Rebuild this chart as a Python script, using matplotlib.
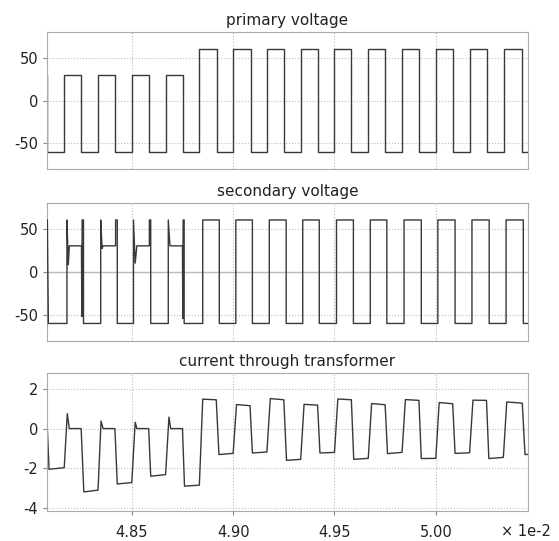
import numpy as np
import matplotlib.pyplot as plt

plt.rcParams["axes.unicode_minus"] = False

# switching frequency, times below are given in switching cycles
F_SW = 6000.0

# primary voltage: switching instants and level after each instant
prim_sw = [288.5, 288.5, 289.0, 289.51, 290.0, 290.51, 291.0, 291.51, 292.0, 292.51,
           293.0, 293.53, 294.0, 294.53, 295.0, 295.52, 296.0, 296.51, 297.0, 297.5,
           298.0, 298.5, 299.0, 299.51, 300.0, 300.52, 301.0, 301.53, 302.02, 302.55, 302.73]
prim_lv = [30, -60, 30, -60, 30, -60, 30, -60, 30, -60,
           60, -60, 60, -60, 60, -60, 60, -60, 60, -60,
           60, -60, 60, -60, 60, -60, 60, -60, 60, -60, -60]

# secondary voltage: first cycles with ringing, then regular square wave
sec_head_n = [288.50, 288.53,
              289.08, 289.08, 289.12, 289.15, 289.51, 289.52, 289.53, 289.57, 289.57,
              290.08, 290.08, 290.12, 290.15, 290.52, 290.52, 290.57, 290.57,
              291.05, 291.05, 291.10, 291.15, 291.52, 291.52, 291.56, 291.56,
              292.08, 292.08, 292.13, 292.50, 292.51, 292.52, 292.55, 292.55]
sec_head_v = [60, -60,
              -60, 60, 8, 30, 30, -52, 60, 60, -60,
              -60, 60, 27, 30, 30, 60, 60, -60,
              -60, 60, 10, 30, 30, 60, 60, -60,
              -60, 60, 30, 30, -54, 60, 60, -60]
sec_sw = [293.10, 293.59, 294.08, 294.57, 295.07, 295.57, 296.06, 296.55, 297.06, 297.56,
          298.06, 298.55, 299.06, 299.57, 300.06, 300.57, 301.07, 301.58, 302.08, 302.59, 302.73]
sec_lv = [60, -60, 60, -60, 60, -60, 60, -60, 60, -60,
          60, -60, 60, -60, 60, -60, 60, -60, 60, -60, -60]

# current through transformer
cur_n = [288.50, 288.55, 289.00, 289.09, 289.15, 289.50, 289.58, 290.00, 290.09, 290.15,
         290.50, 290.57, 291.00, 291.10, 291.15, 291.50, 291.56, 292.00, 292.10, 292.15,
         292.50, 292.56, 293.00, 293.10, 293.50, 293.58, 294.00, 294.10, 294.50, 294.57,
         295.00, 295.10, 295.50, 295.58, 296.00, 296.10, 296.50, 296.57, 297.00, 297.10,
         297.50, 297.57, 298.00, 298.10, 298.50, 298.57, 299.00, 299.10, 299.50, 299.57,
         300.00, 300.10, 300.50, 300.57, 301.00, 301.10, 301.50, 301.57, 302.00, 302.10,
         302.56, 302.64, 302.73]
cur_i = [0.0, -2.05, -1.97, 0.75, 0.0, 0.0, -3.19, -3.1, 0.38, 0.0,
         0.0, -2.79, -2.72, 0.32, 0.0, 0.0, -2.4, -2.32, 0.58, 0.0,
         0.0, -2.9, -2.85, 1.48, 1.45, -1.31, -1.25, 1.21, 1.15, -1.23,
         -1.18, 1.51, 1.45, -1.6, -1.55, 1.22, 1.18, -1.23, -1.2, 1.49,
         1.45, -1.55, -1.5, 1.26, 1.2, -1.26, -1.2, 1.46, 1.42, -1.51,
         -1.5, 1.31, 1.25, -1.25, -1.22, 1.43, 1.42, -1.51, -1.45, 1.34,
         1.28, -1.31, -1.3]


def square(sw, lv, start):
    xs, ys = [sw[0]], [start]
    prev = start
    for t, v in zip(sw, lv):
        xs += [t, t]
        ys += [prev, v]
        prev = v
    return np.array(xs), np.array(ys)


px, py = square(prim_sw[1:], prim_lv[1:], prim_lv[0])
sx, sy = square(sec_sw, sec_lv, -60)
sx = np.concatenate([sec_head_n, sx])
sy = np.concatenate([sec_head_v, sy])

line_c = "#383838"
grid_c = "#bbbbbb"
spine_c = "#aaaaaa"
xlim = (288.49 / F_SW, 302.73 / F_SW)
xticks = [0.0485, 0.0490, 0.0495, 0.0500]

fig = plt.figure(figsize=(5.59, 5.41), dpi=100)
ax1 = fig.add_axes([0.0841, 0.6876, 0.8605, 0.2532])
ax2 = fig.add_axes([0.0841, 0.3702, 0.8605, 0.2551])
ax3 = fig.add_axes([0.0841, 0.0555, 0.8605, 0.2551])

ax1.plot(px / F_SW, py, color=line_c, linewidth=1.0)
ax2.axhline(0, color=grid_c, linewidth=1.0, zorder=1)
ax2.plot(sx / F_SW, sy, color=line_c, linewidth=1.0, zorder=3)
ax3.plot(np.array(cur_n) / F_SW, cur_i, color=line_c, linewidth=1.0)

titles = ["primary voltage", "secondary voltage", "current through transformer"]
for ax, title in zip([ax1, ax2, ax3], titles):
    ax.set_title(title, fontsize=11, color="#222222", pad=5)
    ax.set_xlim(*xlim)
    ax.set_xticks(xticks)
    ax.grid(color=grid_c, linestyle=":", linewidth=0.8)
    ax.set_axisbelow(True)
    for sp in ax.spines.values():
        sp.set_color(spine_c)
    ax.tick_params(colors="#888888", labelcolor="#222222", labelsize=10.5, length=3)

for ax in [ax1, ax2]:
    ax.set_ylim(-80, 80)
    ax.set_yticks([-50, 0, 50])
    ax.tick_params(axis="x", length=0, labelbottom=False)

ax3.set_ylim(-4.15, 2.8)
ax3.set_yticks([-4, -2, 0, 2])
ax3.set_xticklabels(["4.85", "4.90", "4.95", "5.00"])
ax3.tick_params(axis="x", pad=7)
fig.text(501 / 559, 1 - 532 / 541, "× 1e-2", fontsize=10.5, color="#222222",
         ha="left", va="center")

fig.savefig("out.png", dpi=100)
